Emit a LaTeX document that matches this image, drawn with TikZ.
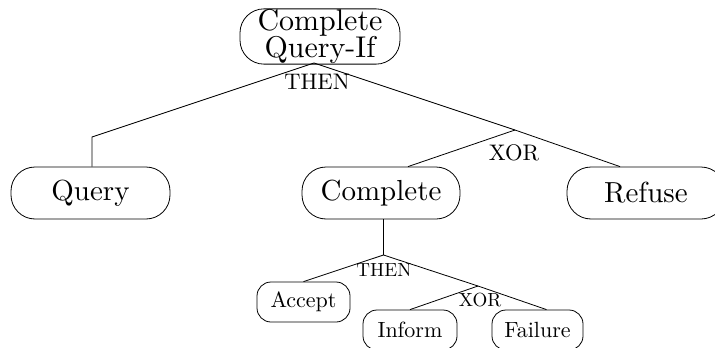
\documentclass[tikz,border=0pt]{standalone}
\usepackage{fontspec}
\setmainfont{lmroman10-regular.otf}
\usetikzlibrary{calc}
\begin{document}
\begin{tikzpicture}[x=1pt,y=-1pt,line width=0.8pt,
  bigbox/.style={draw, rounded corners=24pt, minimum height=52pt, inner sep=0pt,
    align=center, font=\fontsize{29}{22}\selectfont},
  smallbox/.style={draw, rounded corners=14pt, minimum height=40pt, inner sep=0pt,
    font=\fontsize{22}{24}\selectfont},
  oplab/.style={inner sep=0pt, font=\fontsize{22.5}{23}\selectfont},
  oplabsmall/.style={inner sep=0pt, font=\fontsize{19}{20}\selectfont}]
  \useasboundingbox (0,0) rectangle (715,348);
  \clip (0,0) rectangle (715,348);

  % plan nodes
  \node[bigbox, minimum width=160pt, minimum height=53pt, font=\fontsize{30}{22}\selectfont] (root) at (320,36.5) {Complete\\Query-If};
  \node[bigbox, minimum width=159pt] (query) at (90.5,193) {Query};
  \node[bigbox, minimum width=158pt] (complete) at (381,193) {Complete};
  \node[bigbox, minimum width=158pt] (refuse) at (646,193) {Refuse};
  \node[smallbox, minimum width=93pt] (accept) at (303.5,302) {Accept};
  \node[smallbox, minimum width=94pt] (inform) at (410,330) {Inform};
  \node[smallbox, minimum width=91pt] (failure) at (537.5,330) {Failure};

  % operator junctions
  \coordinate (j1) at (314,63);
  \coordinate (bend) at (92,137);
  \coordinate (j2) at (515,130);
  \coordinate (j3) at (383.5,255);
  \coordinate (j4) at (478,286);

  % operator labels
  \node[oplab] (then1) at (317,82) {THEN};
  \node[oplab] (xor1) at (514,153) {XOR};
  \node[oplabsmall] (then2) at (384,270) {THEN};
  \node[oplabsmall] (xor2) at (480,300) {XOR};

  % connectors
  \draw (j1) -- (bend) -- (bend |- query.north);
  \draw (j1) -- (j2);
  \draw (j2) -- ([xshift=27pt]complete.north);
  \draw (j2) -- ([xshift=-26pt]refuse.north);
  \draw (j3 |- complete.south) -- (j3);
  \draw (j3) -- (accept.north);
  \draw (j3) -- (j4);
  \draw (j4) -- (inform.north);
  \draw (j4) -- ([xshift=9pt]failure.north);
\end{tikzpicture}
\end{document}
